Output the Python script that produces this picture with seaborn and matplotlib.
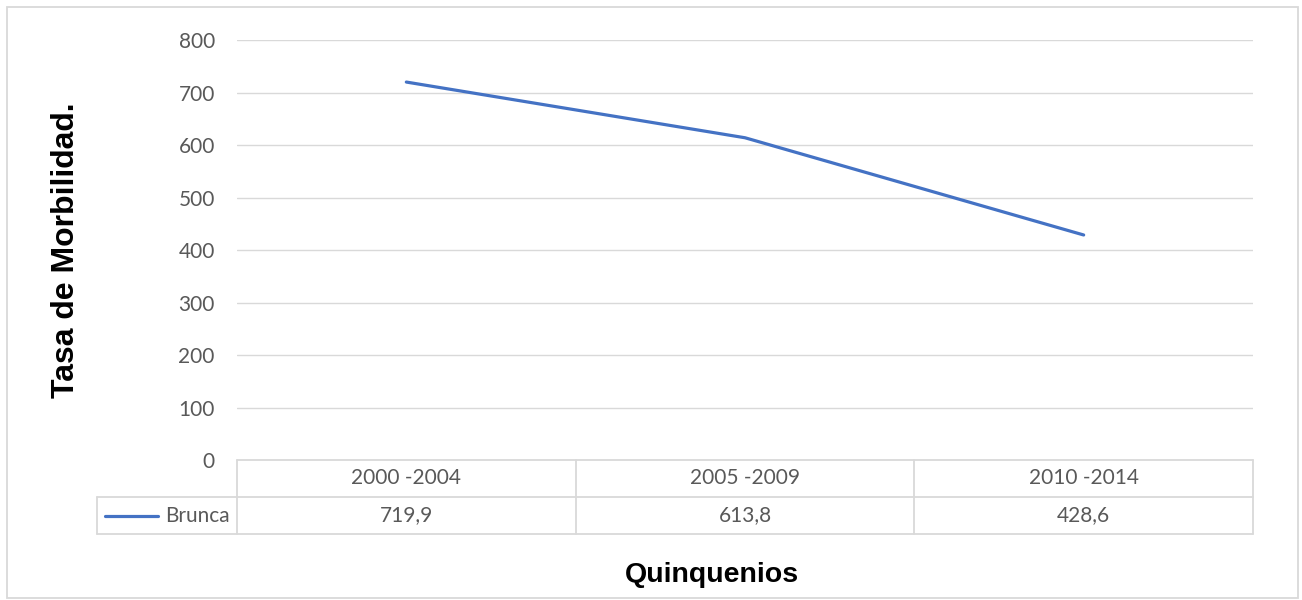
import seaborn as sns
import matplotlib.pyplot as plt
import matplotlib.transforms as mtransforms
from matplotlib.patches import Rectangle
import pandas as pd

# Data: tasa de morbilidad por quinquenio, region Brunca
quinquenios = ['2000 -2004', '2005 -2009', '2010 -2014']
brunca = [719.9, 613.8, 428.6]
brunca_labels = ['719,9', '613,8', '428,6']
y_ticks = [0, 100, 200, 300, 400, 500, 600, 700, 800]

sns.set_style('white')
plt.rcParams['font.family'] = ['Lato', 'DejaVu Sans']

df = pd.DataFrame({'Quinquenio': quinquenios, 'Tasa': brunca})

fig = plt.figure(figsize=(13.02, 6.0), dpi=100)
ax = fig.add_axes([237 / 1302, 1 - 460 / 600, 1016 / 1302, 420 / 600])

grid_color = '#D9D9D9'
text_color = '#595959'
blue = '#4472C4'
fs = 15

sns.lineplot(data=df, x='Quinquenio', y='Tasa', ax=ax, color=blue,
             linewidth=2.3, sort=False)

ax.set_xlim(-0.5, 2.5)
ax.set_ylim(0, 800)
ax.set_yticks(y_ticks)
ax.set_yticklabels([str(v) for v in y_ticks], color=text_color, fontsize=fs)
ax.tick_params(axis='y', length=0, pad=16)
ax.set_xticks([])
ax.set_xlabel('')
ax.set_ylabel('')
for y in y_ticks[1:]:
    ax.axhline(y, color=grid_color, linewidth=1, zorder=0)
for s in ax.spines.values():
    s.set_visible(False)

# data table below the plot
trans = mtransforms.blended_transform_factory(ax.transData, ax.transAxes)
row_h = 37 / 420
lw = 1.3
ax.plot([-0.5, 2.5], [0, 0], transform=trans, color=grid_color, lw=lw, clip_on=False)
ax.plot([-0.913, 2.5], [-row_h, -row_h], transform=trans, color=grid_color, lw=lw, clip_on=False)
ax.plot([-0.913, 2.5], [-2 * row_h, -2 * row_h], transform=trans, color=grid_color, lw=lw, clip_on=False)
for xv in [-0.5, 0.5, 1.5, 2.5]:
    ax.plot([xv, xv], [0, -2 * row_h], transform=trans, color=grid_color, lw=lw, clip_on=False)
ax.plot([-0.913, -0.913], [-row_h, -2 * row_h], transform=trans, color=grid_color, lw=lw, clip_on=False)

for i, (q, lab) in enumerate(zip(quinquenios, brunca_labels)):
    ax.text(i, -row_h / 2, q, transform=trans, ha='center', va='center',
            color=text_color, fontsize=fs)
    ax.text(i, -1.5 * row_h, lab, transform=trans, ha='center', va='center',
            color=text_color, fontsize=fs)

# legend key in the row label cell
ax.plot([-0.89, -0.733], [-1.5 * row_h, -1.5 * row_h], transform=trans,
        color=blue, lw=2.3, clip_on=False)
ax.text(-0.522, -1.5 * row_h, 'Brunca', transform=trans, ha='right', va='center',
        color=text_color, fontsize=fs)

# axis titles
fig.text(66 / 1302, 1 - 250 / 600, 'Tasa de Morbilidad.', rotation=90,
         ha='center', va='center', fontsize=23, fontweight='bold',
         family='Liberation Sans', color='black')
fig.text(712 / 1302, 1 - 575 / 600, 'Quinquenios', ha='center', va='center',
         fontsize=20.5, fontweight='bold', family='Liberation Sans', color='black')

# chart border
fig.add_artist(Rectangle((7 / 1302, 2 / 600), 1291 / 1302, 591 / 600,
                         transform=fig.transFigure, fill=False,
                         edgecolor='#D9D9D9', linewidth=1.3))

fig.savefig('out.png', dpi=100)
